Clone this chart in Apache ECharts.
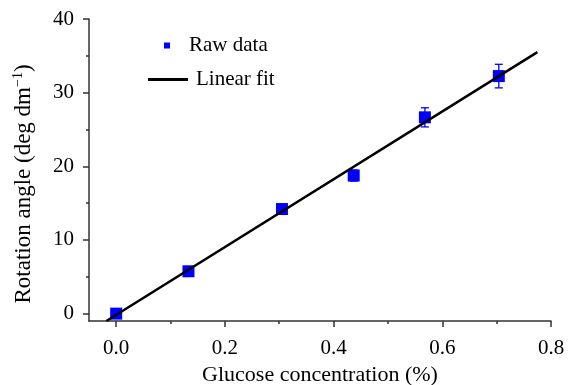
<!DOCTYPE html>
<html>
<head>
<meta charset="utf-8">
<script src="https://cdn.jsdelivr.net/npm/echarts@6/dist/echarts.min.js"></script>
<style>html,body{margin:0;padding:0;background:#fff;}#c{width:571px;height:385px;}</style>
</head>
<body>
<div id="c"></div>
<script>
// Data
var concentration = [0.0, 0.133, 0.305, 0.437, 0.568, 0.704];
var rotation = [0.0, 5.75, 14.2, 18.75, 26.65, 32.25];
var errors = [0.3, 0.3, 0.35, 0.75, 1.3, 1.6];
var fitX = [-0.018, 0.775];
var fitY = [-1.0, 35.5];
var xTicks = [0.0, 0.2, 0.4, 0.6, 0.8];
var xMinorTicks = [0.1, 0.3, 0.5, 0.7];
var yTicks = [0, 10, 20, 30, 40];
var yMinorTicks = [5, 15, 25, 35];

var FONT = '"Liberation Serif", "Times New Roman", serif';
var chart = echarts.init(document.getElementById('c'), null, {renderer: 'canvas'});

var axisLineStyle = {color: '#333', width: 1.5};

var option = {
  animation: false,
  backgroundColor: '#fff',
  grid: {left: 89, right: 20, top: 19, bottom: 64, containLabel: false, outerBoundsMode: 'none'},
  legend: [
    {
      data: [{name: 'Raw data', icon: 'rect'}],
      left: 159, top: 30,
      itemWidth: 6, itemHeight: 6,
      textStyle: {fontFamily: FONT, fontSize: 21, color: '#000', padding: [0, 0, 0, 14]}
    },
    {
      data: [{name: 'Linear fit', icon: 'rect', itemStyle: {color: '#000'}}],
      left: 143, top: 64,
      itemWidth: 40, itemHeight: 3,
      textStyle: {fontFamily: FONT, fontSize: 21, color: '#000', padding: [0, 0, 0, 3]}
    }
  ],
  xAxis: [
    {
      type: 'value', min: -0.05, max: 0.8,
      name: 'Glucose concentration (%)', nameLocation: 'middle', nameGap: 37,
      nameTextStyle: {fontFamily: FONT, fontSize: 22, color: '#000'},
      axisLine: {show: true, onZero: false, lineStyle: axisLineStyle},
      axisTick: {show: true, length: 6, lineStyle: axisLineStyle, customValues: xTicks},
      axisLabel: {fontFamily: FONT, fontSize: 21, color: '#000', margin: 17, customValues: xTicks,
        formatter: function (v) { return v.toFixed(1); }},
      splitLine: {show: false}
    },
    {
      type: 'value', min: -0.05, max: 0.8, position: 'bottom',
      axisLine: {show: false, onZero: false},
      axisTick: {show: true, length: 3, lineStyle: axisLineStyle, customValues: xMinorTicks},
      axisLabel: {show: false},
      splitLine: {show: false}
    }
  ],
  yAxis: [
    {
      type: 'value', min: -1, max: 40,
      name: '{a|Rotation angle (deg dm}{s|−1}{a|)}', nameLocation: 'middle', nameGap: 52,
      nameTextStyle: {fontFamily: FONT, fontSize: 23, color: '#000', padding: [0, 28, 0, 0],
        rich: {
          a: {fontFamily: FONT, fontSize: 23, color: '#000', lineHeight: 26},
          s: {fontFamily: FONT, fontSize: 14, color: '#000', verticalAlign: 'top', lineHeight: 26, padding: [0, 0, 9, 0]}
        }},
      axisLine: {show: true, onZero: false, lineStyle: axisLineStyle},
      axisTick: {show: true, length: 6, lineStyle: axisLineStyle, customValues: yTicks},
      axisLabel: {fontFamily: FONT, fontSize: 21, color: '#000', margin: 15, customValues: yTicks},
      splitLine: {show: false}
    },
    {
      type: 'value', min: -1, max: 40, position: 'left',
      axisLine: {show: false, onZero: false},
      axisTick: {show: true, length: 3, lineStyle: axisLineStyle, customValues: yMinorTicks},
      axisLabel: {show: false},
      splitLine: {show: false}
    }
  ],
  series: [
    {
      name: 'Error', type: 'custom', z: 3,
      data: concentration.map(function (x, i) { return [x, rotation[i] - errors[i], rotation[i] + errors[i]]; }),
      encode: {x: 0, y: [1, 2]},
      renderItem: function (params, api) {
        var x = api.value(0);
        var lo = api.coord([x, api.value(1)]);
        var hi = api.coord([x, api.value(2)]);
        var hw = 4;
        var st = {stroke: '#0000ff', lineWidth: 1.3};
        return {type: 'group', children: [
          {type: 'line', shape: {x1: lo[0], y1: lo[1], x2: hi[0], y2: hi[1]}, style: st},
          {type: 'line', shape: {x1: lo[0] - hw, y1: lo[1], x2: lo[0] + hw, y2: lo[1]}, style: st},
          {type: 'line', shape: {x1: hi[0] - hw, y1: hi[1], x2: hi[0] + hw, y2: hi[1]}, style: st}
        ]};
      }
    },
    {
      name: 'Raw data', type: 'scatter', z: 4,
      symbol: 'rect', symbolSize: 12,
      itemStyle: {color: '#0000ff', opacity: 1},
      data: concentration.map(function (x, i) { return [x, rotation[i]]; })
    },
    {
      name: 'Linear fit', type: 'line', z: 5,
      showSymbol: false, symbol: 'none',
      lineStyle: {color: '#000', width: 2.5},
      itemStyle: {color: '#000'},
      data: fitX.map(function (x, i) { return [x, fitY[i]]; })
    }
  ]
};
chart.setOption(option);
</script>
</body>
</html>
